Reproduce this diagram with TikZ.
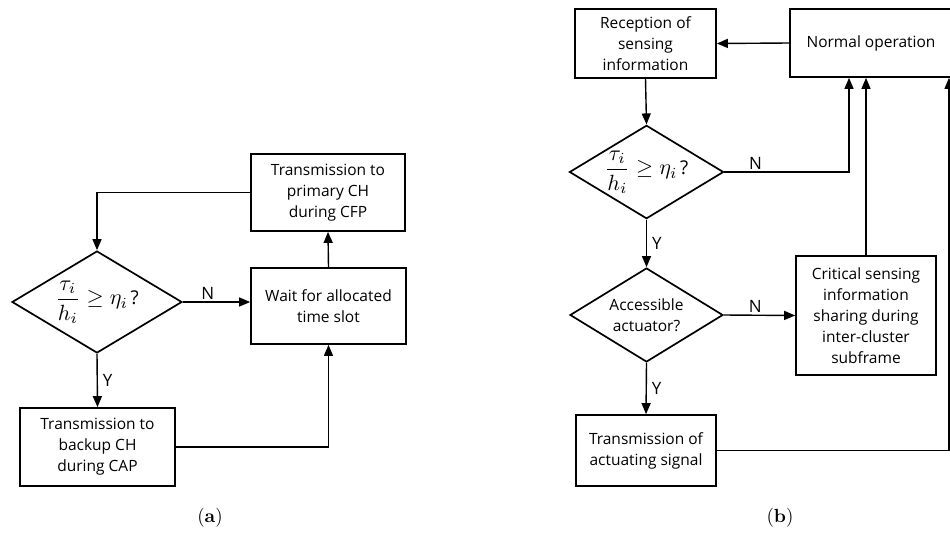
\documentclass[tikz,border=0pt]{standalone}
\usepackage{graphicx}
\usepackage{fontspec}
\setsansfont{Open Sans}
\usetikzlibrary{shapes.geometric,arrows.meta}
% threshold test written in the two decision diamonds
\newcommand{\ratiotest}{{\fontsize{10}{12}\selectfont\scalebox{2.2}{$\displaystyle\frac{\tau_i}{h_i}\geq\eta_i$}}\,{\sffamily\fontsize{19}{22}\selectfont ?}}
% sub-figure caption
\newcommand{\subcap}[1]{{\fontsize{10}{12}\selectfont\scalebox{1.9}{(\textbf{#1})}}}
\begin{document}
\begin{tikzpicture}[x=1pt,y=-1pt,
  txt/.style={font=\sffamily\fontsize{15.5}{21}\selectfont},
  box/.style={txt,draw,line width=1.7pt,align=center,inner sep=0pt},
  dec/.style={txt,diamond,shape aspect=1.65,draw,line width=1.7pt,align=center,inner sep=0pt},
  flow/.style={line width=1.4pt,-{Triangle[length=11pt,width=9pt]}},
  thinflow/.style={flow,line width=1.1pt},
  lbl/.style={font=\sffamily\fontsize{17}{19}\selectfont,inner sep=2pt},
  captxt/.style={inner sep=0pt}
]
\useasboundingbox (0,0) rectangle (950,533);

% ---------- (a) ----------
\node[box,minimum width=154pt,minimum height=77pt] (tp) at (328,192.5)
  {Transmission to\\primary CH\\during CFP};
\node[box,minimum width=155pt,minimum height=76pt] (wt) at (328.5,306)
  {Wait for allocated\\time slot};
\node[dec,minimum width=170pt,minimum height=102pt] (d1) at (97,302) {\ratiotest};
\node[box,minimum width=155pt,minimum height=78pt] (bk) at (97.5,447)
  {Transmission to\\backup CH\\during CAP};

\draw[flow] (tp.west) -| (d1.north);
\draw[flow] (d1.east) -- node[lbl,above,pos=0.37] {N} (d1.east -| wt.west);
\draw[flow] (d1.south) -- node[lbl,right=3pt] {Y} (bk.north);
\draw[thinflow] (bk.east) -| (wt.south);
\draw[flow] (wt.north) -- (tp.south);

\node[captxt] (ca) at (210,518) {\subcap{a}};

% ---------- (b) ----------
\node[box,minimum width=141pt,minimum height=69pt] (rc) at (645.5,43.5)
  {Reception of\\sensing\\information};
\node[box,minimum width=162pt,minimum height=68pt] (no) at (871,43)
  {Normal operation};
\node[dec,minimum width=153pt,minimum height=91pt] (d2) at (646.5,172) {\ratiotest};
\node[dec,minimum width=153pt,minimum height=94pt] (d3) at (646.5,315)
  {Accessible\\actuator?};
\node[box,minimum width=140pt,minimum height=119pt] (cr) at (866,315.5)
  {Critical sensing\\information\\sharing during\\inter-cluster\\subframe};
\node[box,minimum width=140pt,minimum height=71pt] (tr) at (646,450.5)
  {Transmission of\\actuating signal};

\coordinate (nl) at ([xshift=-22pt]no.south);
\coordinate (nr) at ([xshift=78pt]no.south);

\draw[flow] (no.west) -- (rc.east);
\draw[flow] (rc.south) -- (d2.north);
\draw[flow] (d2.east) -| node[lbl,above,pos=0.125] {N} (nl);
\draw[flow] (d2.south) -- node[lbl,right=3pt] {Y} (d3.north);
\draw[flow] (d3.east) -- node[lbl,above,pos=0.44] {N} (cr.west);
\draw[flow] (cr.north) -- (cr.north |- no.south);
\draw[flow] (d3.south) -- node[lbl,right=3pt] {Y} (tr.north);
\draw[thinflow] (tr.east) -| (nr);

\node[captxt] (cb) at (780,518) {\subcap{b}};
\end{tikzpicture}
\end{document}
